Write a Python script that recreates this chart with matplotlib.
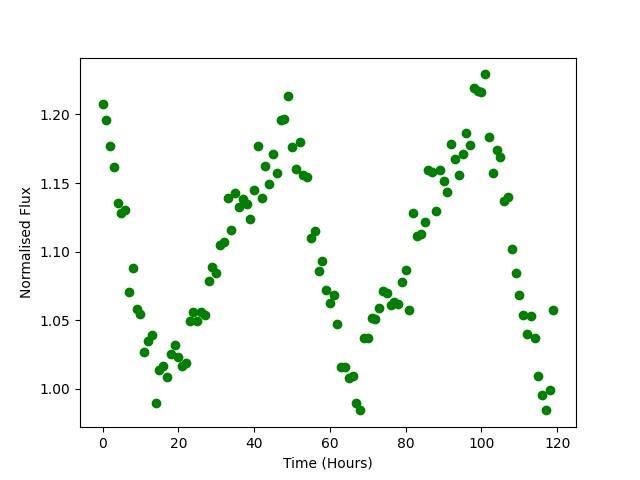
import numpy as np
from matplotlib import pyplot as plt

# hourly normalised flux readings
hours = np.arange(0, 120)
flux = [
    1.2074, 1.1957, 1.1768, 1.1615, 1.1355, 1.1280, 1.1300, 1.0704, 1.0879, 1.0583,
    1.0546, 1.0267, 1.0347, 1.0390, 0.9896, 1.0134, 1.0165, 1.0085, 1.0253, 1.0318,
    1.0233, 1.0165, 1.0189, 1.0493, 1.0561, 1.0493, 1.0556, 1.0537, 1.0784, 1.0889,
    1.0843, 1.1049, 1.1070, 1.1389, 1.1156, 1.1425, 1.1323, 1.1384, 1.1350, 1.1236,
    1.1450, 1.1768, 1.1389, 1.1622, 1.1491, 1.1710, 1.1571, 1.1957, 1.1967, 1.2134,
    1.1760, 1.1602, 1.1797, 1.1560, 1.1542, 1.1098, 1.1151, 1.0862, 1.0930, 1.0719,
    1.0624, 1.0682, 1.0471, 1.0155, 1.0158, 1.0075, 1.0090, 0.9896, 0.9842, 1.0369,
    1.0369, 1.0519, 1.0512, 1.0588, 1.0714, 1.0699, 1.0607, 1.0636, 1.0617, 1.0777,
    1.0864, 1.0573, 1.1280, 1.1114, 1.1129, 1.1219, 1.1593, 1.1580, 1.1294, 1.1593,
    1.1513, 1.1433, 1.1782, 1.1673, 1.1559, 1.1710, 1.1862, 1.1775, 1.2192, 1.2170,
    1.2165, 1.2292, 1.1833, 1.1571, 1.1741, 1.1688, 1.1367, 1.1398, 1.1018, 1.0843,
    1.0682, 1.0537, 1.0400, 1.0529, 1.0369, 1.0095, 0.9954, 0.9847, 0.9990, 1.0575,
]

fig, ax = plt.subplots(figsize=(6.4, 4.8), dpi=100)
plt.plot(hours, flux, 'o', color='green')
plt.xlabel('Time (Hours)')
plt.ylabel('Normalised Flux')
plt.savefig('out.png')
